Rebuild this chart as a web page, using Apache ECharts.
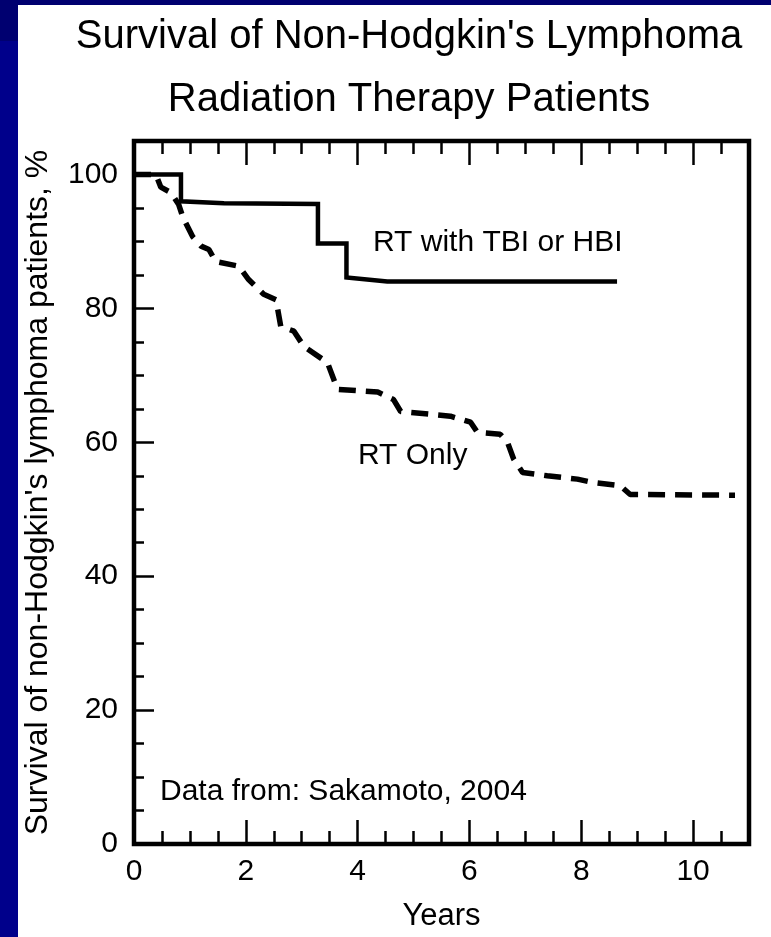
<!DOCTYPE html>
<html>
<head>
<meta charset="utf-8">
<script src="https://cdn.jsdelivr.net/npm/echarts@6/dist/echarts.min.js"></script>
<style>
  html, body { margin: 0; padding: 0; background: #fff; }
  #chart { width: 771px; height: 937px; }
</style>
</head>
<body>
<div id="chart"></div>
<script>
// RT with TBI or HBI (solid step curve)
const rtTbiYears = [0, 0.84, 0.84, 1.61, 3.29, 3.29, 3.80, 3.80, 4.53, 8.64];
const rtTbiSurvival = [100, 100, 96.0, 95.7, 95.6, 89.7, 89.7, 84.6, 84.0, 84.0];

// RT Only (dashed curve)
const rtOnlyYears = [0, 0.39, 0.48, 0.66, 0.80, 0.875, 1.05, 1.2, 1.34, 1.46, 1.875,
  2.05, 2.32, 2.54, 2.625, 2.86, 3.04, 3.46, 3.64, 4.36, 4.64, 4.77, 5.66,
  6.02, 6.14, 6.55, 6.68, 6.79, 6.95, 7.39, 7.93, 8.21, 8.7, 8.875, 10.75];
const rtOnlySurvival = [100, 100, 98.1, 97.3, 95.5, 93.6, 90.7, 89.3, 88.8, 87.0, 86.3,
  84.3, 82.1, 81.3, 77.3, 76.6, 74.3, 71.9, 67.9, 67.5, 66.4, 64.6, 63.9,
  63.0, 61.5, 61.2, 60.0, 57.5, 55.5, 55.0, 54.5, 54.0, 53.5, 52.2, 52.1];

const titleLines = ["Survival of Non-Hodgkin's Lymphoma", 'Radiation Therapy Patients'];
const yName = "Survival of non-Hodgkin's lymphoma patients, %";
const xName = 'Years';

const font = '"Liberation Sans", Arial, sans-serif';
const chart = echarts.init(document.getElementById('chart'));

const zip = (xs, ys) => xs.map((x, i) => [x, ys[i]]);

// tick-only axis helper (major / minor ticks pointing inside)
function tickAxis(position, min, max, interval, len) {
  return {
    type: 'value', position, min, max, interval,
    axisLine: { show: false },
    splitLine: { show: false },
    axisTick: { show: true, inside: true, length: len, lineStyle: { color: '#000', width: 2.5 } },
    axisLabel: { show: false }
  };
}

const xMain = tickAxis('bottom', 0, 11, 2, 24);
xMain.axisLabel = {
  show: true, margin: 13, fontSize: 30, color: '#000', fontFamily: font,
  formatter: v => (v % 2 === 0 ? String(v) : '')
};
xMain.name = xName;
xMain.nameLocation = 'middle';
xMain.nameGap = 57;
xMain.nameTextStyle = { fontSize: 31, color: '#000', fontFamily: font };

const yMain = tickAxis('left', 0, 105, 20, 20);
yMain.axisLabel = {
  show: true, margin: 16, fontSize: 30, color: '#000', fontFamily: font,
  formatter: v => (v % 20 === 0 ? String(v) : '')
};
yMain.name = yName;
yMain.nameLocation = 'middle';
yMain.nameRotate = 90;
yMain.nameGap = 80;
yMain.nameTextStyle = { fontSize: 32, color: '#000', fontFamily: font };

const option = {
  backgroundColor: '#fff',
  animation: false,
  grid: {
    left: 134, right: 22, top: 141, bottom: 93,
    show: true, borderColor: '#000', borderWidth: 4.5,
    backgroundColor: 'transparent',
    outerBoundsMode: 'none'
  },
  xAxis: [
    xMain,
    tickAxis('bottom', 0, 11, 0.5, 13),
    tickAxis('top', 0, 11, 2, 24),
    tickAxis('top', 0, 11, 0.5, 13)
  ],
  yAxis: [
    yMain,
    tickAxis('left', 0, 105, 5, 10)
  ],
  graphic: [
    { type: 'rect', shape: { x: 0, y: 0, width: 18, height: 937 }, style: { fill: '#00008b' }, z: 10 },
    { type: 'rect', shape: { x: 0, y: 0, width: 771, height: 5 }, style: { fill: '#000070' }, z: 10 },
    { type: 'rect', shape: { x: 0, y: 0, width: 18, height: 41 }, style: { fill: '#000070' }, z: 10 },
    { type: 'text', x: 409, y: 37, style: { text: titleLines[0], font: '40px ' + font, fill: '#000', align: 'center', verticalAlign: 'middle' } },
    { type: 'text', x: 409, y: 100, style: { text: titleLines[1], font: '40px ' + font, fill: '#000', align: 'center', verticalAlign: 'middle' } },
    { type: 'text', x: 373, y: 243, style: { text: 'RT with TBI or HBI', font: '30px ' + font, fill: '#000', align: 'left', verticalAlign: 'middle' } },
    { type: 'text', x: 358, y: 456, style: { text: 'RT Only', font: '30px ' + font, fill: '#000', align: 'left', verticalAlign: 'middle' } },
    { type: 'text', x: 160, y: 792, style: { text: 'Data from: Sakamoto, 2004', font: '30px ' + font, fill: '#000', align: 'left', verticalAlign: 'middle' } }
  ],
  series: [
    {
      name: 'RT with TBI or HBI',
      type: 'line',
      data: zip(rtTbiYears, rtTbiSurvival),
      showSymbol: false,
      symbol: 'none',
      lineStyle: { color: '#000', width: 4.5, type: 'solid', join: 'miter' }
    },
    {
      name: 'RT Only',
      type: 'line',
      data: zip(rtOnlyYears, rtOnlySurvival),
      showSymbol: false,
      symbol: 'none',
      lineStyle: { color: '#000', width: 5.5, type: [17, 10], cap: 'butt' }
    }
  ]
};

chart.setOption(option);
</script>
</body>
</html>
